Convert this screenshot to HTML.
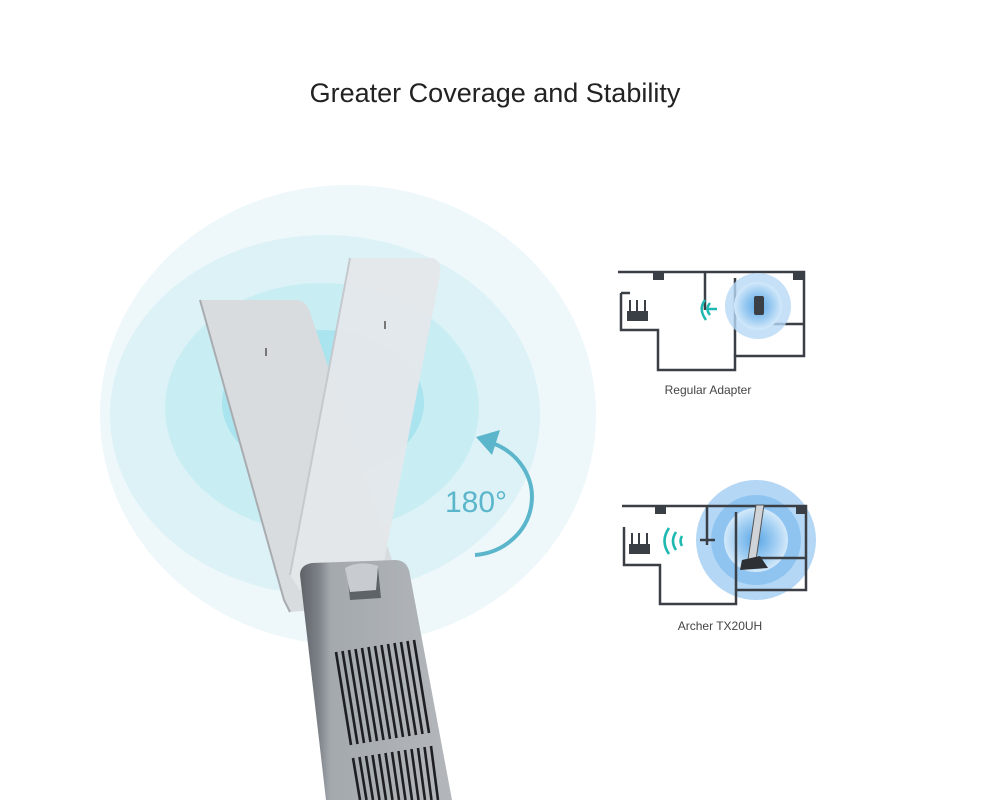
<!DOCTYPE html>
<html><head><style>
html,body{margin:0;padding:0;background:#fff;}
body{width:1000px;height:800px;overflow:hidden;position:relative;font-family:"Liberation Sans",sans-serif;}
</style></head><body>
<svg width="1000" height="800" viewBox="0 0 1000 800" xmlns="http://www.w3.org/2000/svg" style="position:absolute;left:0;top:0">
<defs>
<clipPath id="c"><rect x="100" y="0" width="900" height="800"/></clipPath>
<radialGradient id="b1"><stop offset="0" stop-color="#5aa6e6"/><stop offset="0.6" stop-color="#9fcdf2"/><stop offset="1" stop-color="#d4e9fa"/></radialGradient>
<linearGradient id="body" x1="0" x2="1"><stop offset="0" stop-color="#5f6368"/><stop offset="0.12" stop-color="#7c8187"/><stop offset="0.2" stop-color="#a4a9ae"/><stop offset="1" stop-color="#b3b7bb"/></linearGradient>
</defs>
<text x="495" y="102" text-anchor="middle" font-size="27" fill="#222" font-family="Liberation Sans, sans-serif">Greater Coverage and Stability</text>
<g clip-path="url(#c)">
<ellipse cx="348" cy="415" rx="248" ry="230" fill="#eef8fb"/>
<ellipse cx="325" cy="415" rx="215" ry="180" fill="#dcf2f7"/>
<ellipse cx="322" cy="408" rx="157" ry="125" fill="#c8eef4"/>
<ellipse cx="323" cy="403" rx="101" ry="73" fill="#aae4ee"/>
</g>
<!-- left antenna -->
<path d="M200,300 L296,300 Q306,300 310,312 L392,560 L382,605 L290,612 L284,600 Z" fill="#d9dcdf"/>
<path d="M200,300 L284,600 L290,612" fill="none" stroke="#a8acb0" stroke-width="2"/>
<!-- right antenna -->
<path d="M350,258 L432,258 Q442,260 440,275 L382,572 L300,590 L290,575 Z" fill="#e4e7ea" opacity="0.95"/>
<path d="M350,258 L290,575" stroke="#c5c9cd" stroke-width="2"/>
<rect x="265" y="348" width="2" height="8" fill="#777"/>
<rect x="384" y="321" width="2" height="8" fill="#777"/>
<!-- body -->
<path d="M300,575 Q300,565 312,563 L395,560 Q408,560 410,575 L452,800 L326,800 Z" fill="url(#body)"/>
<path d="M347,570 L378,568 L381,598 L350,600 Z" fill="#5e6368"/>
<path d="M345,568 Q360,560 378,566 L376,590 L350,592 Z" fill="#c8ccd0"/>
<g stroke="#1c1e22" stroke-width="2.6">
<line x1="336" y1="652" x2="351" y2="745"/><line x1="342.5" y1="651" x2="357.5" y2="744"/><line x1="349" y1="650" x2="364" y2="743"/><line x1="355.5" y1="649" x2="370.5" y2="742"/><line x1="362" y1="648" x2="377" y2="741"/><line x1="368.5" y1="647" x2="383.5" y2="740"/><line x1="375" y1="646" x2="390" y2="739"/><line x1="381.5" y1="645" x2="396.5" y2="738"/><line x1="388" y1="644" x2="403" y2="737"/><line x1="394.5" y1="643" x2="409.5" y2="736"/><line x1="401" y1="642" x2="416" y2="735"/><line x1="407.5" y1="641" x2="422.5" y2="734"/><line x1="414" y1="640" x2="429" y2="733"/>
<line x1="353" y1="758" x2="360" y2="800"/><line x1="359.5" y1="757" x2="366.5" y2="800"/><line x1="366" y1="756" x2="373" y2="800"/><line x1="372.5" y1="755" x2="379.5" y2="800"/><line x1="379" y1="754" x2="386" y2="800"/><line x1="385.5" y1="753" x2="392.5" y2="800"/><line x1="392" y1="752" x2="399" y2="800"/><line x1="398.5" y1="751" x2="405.5" y2="800"/><line x1="405" y1="750" x2="412" y2="800"/><line x1="411.5" y1="749" x2="418.5" y2="800"/><line x1="418" y1="748" x2="425" y2="800"/><line x1="424.5" y1="747" x2="431.5" y2="800"/><line x1="431" y1="746" x2="438" y2="800"/>
</g>
<!-- arrow -->
<path d="M492,443 A62,58 0 0 1 475,555" fill="none" stroke="#5cb6cb" stroke-width="4"/>
<path d="M476,437 L500,430 L492,455 Z" fill="#5cb6cb"/>
<text x="445" y="512" font-size="30" fill="#5cb6cb" font-family="Liberation Sans, sans-serif">180°</text>

<!-- regular plan -->
<g fill="none" stroke="#3a3f45" stroke-width="2.5">
<path d="M618,272 L804,272 L804,356 L735,356 L735,370 L658,370 L658,330 L621,330 L621,293"/>
<path d="M705,272 L705,310"/><path d="M735,278 L735,356"/><path d="M754,324 L804,324"/><path d="M621,293 L630,293"/>
</g>
<rect x="653" y="272" width="11" height="8" fill="#3a3f45"/><rect x="793" y="272" width="11" height="8" fill="#3a3f45"/>
<rect x="627" y="311" width="21" height="10" fill="#3a3f45"/><g stroke="#3a3f45" stroke-width="2"><line x1="630" y1="300" x2="630" y2="311"/><line x1="637" y1="300" x2="637" y2="311"/><line x1="645" y1="300" x2="645" y2="311"/></g>
<circle cx="758" cy="306" r="33" fill="#b7d8f5" opacity="0.8"/><circle cx="758" cy="306" r="24" fill="url(#b1)"/>
<rect x="754" y="296" width="10" height="19" rx="2" fill="#3a3f45"/>
<g fill="none" stroke="#1fb8b0" stroke-width="2.5"><path d="M705,300 Q698,309 706,320"/><path d="M710,303 Q705,309 710,315"/><path d="M708,309 L717,309"/></g>
<text x="708" y="394" text-anchor="middle" font-size="12" fill="#444">Regular Adapter</text>

<!-- archer plan -->
<circle cx="756" cy="540" r="60" fill="#b4d7f5"/><circle cx="756" cy="540" r="45" fill="#8fc4f0"/><circle cx="756" cy="540" r="32" fill="url(#b1)"/>
<g fill="none" stroke="#3a3f45" stroke-width="2.5">
<path d="M622,506 L806,506 L806,590 L736,590 L736,604 L660,604 L660,565 L624,565 L624,527"/>
<path d="M707,506 L707,545"/><path d="M736,512 L736,590"/><path d="M756,558 L806,558"/><path d="M700,540 L715,540"/>
</g>
<rect x="655" y="506" width="11" height="8" fill="#3a3f45"/><rect x="796" y="506" width="10" height="8" fill="#3a3f45"/>
<rect x="629" y="544" width="21" height="10" fill="#3a3f45"/><g stroke="#3a3f45" stroke-width="2"><line x1="632" y1="533" x2="632" y2="544"/><line x1="639" y1="533" x2="639" y2="544"/><line x1="647" y1="533" x2="647" y2="544"/></g>
<g fill="none" stroke="#1fb8b0" stroke-width="2.6"><path d="M669,528 Q660,541 669,554"/><path d="M676,532 Q670,541 676,550"/><path d="M682,536 Q679,541 682,546"/></g>
<path d="M756,505 L764,505 L756,560 L748,560 Z" fill="#d0d4d8" stroke="#555" stroke-width="1"/>
<path d="M742,560 L760,556 L768,568 L740,570 Z" fill="#2d3034"/>
<text x="720" y="630" text-anchor="middle" font-size="12" fill="#444">Archer TX20UH</text>
</svg>
</body></html>
